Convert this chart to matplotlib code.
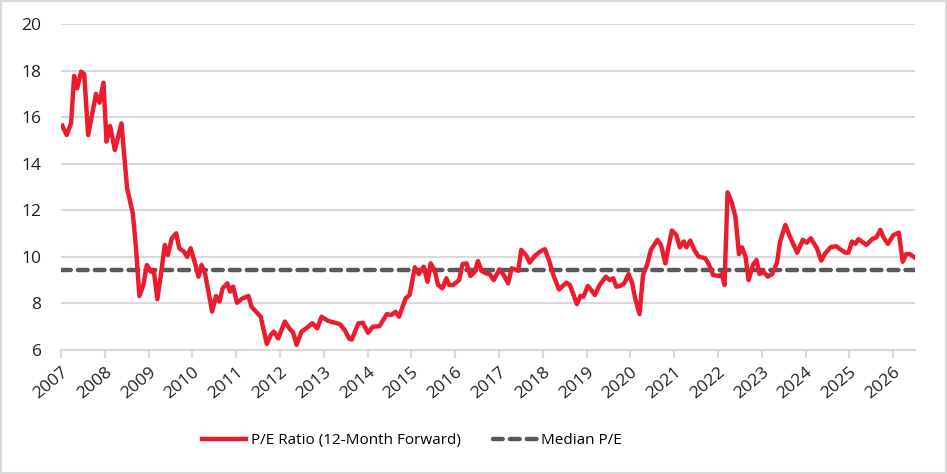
import matplotlib.pyplot as plt
from matplotlib.patches import Rectangle

plt.rcParams['font.family'] = ['Open Sans', 'DejaVu Sans']

# decimal years and forward P/E
dates = [
    2007.03, 2007.13, 2007.23, 2007.30, 2007.37, 2007.46, 2007.53, 2007.62, 2007.80, 2007.88,
    2007.97, 2008.04, 2008.12, 2008.23, 2008.38, 2008.51, 2008.64, 2008.71, 2008.79, 2008.88,
    2008.96, 2009.06, 2009.12, 2009.20, 2009.28, 2009.37, 2009.44, 2009.53, 2009.63, 2009.70,
    2009.81, 2009.88, 2009.96, 2010.06, 2010.14, 2010.21, 2010.29, 2010.36, 2010.45, 2010.54,
    2010.62, 2010.69, 2010.80, 2010.86, 2010.93, 2011.02, 2011.15, 2011.28, 2011.35, 2011.45,
    2011.56, 2011.70, 2011.79, 2011.86, 2011.96, 2012.11, 2012.23, 2012.30, 2012.38, 2012.49,
    2012.60, 2012.74, 2012.85, 2012.95, 2013.10, 2013.37, 2013.48, 2013.58, 2013.64, 2013.79,
    2013.89, 2014.01, 2014.12, 2014.27, 2014.44, 2014.54, 2014.64, 2014.72, 2014.87, 2014.96,
    2015.08, 2015.17, 2015.28, 2015.37, 2015.44, 2015.53, 2015.61, 2015.71, 2015.80, 2015.86,
    2015.95, 2016.09, 2016.17, 2016.26, 2016.35, 2016.45, 2016.52, 2016.60, 2016.71, 2016.79,
    2016.88, 2017.01, 2017.11, 2017.21, 2017.29, 2017.44, 2017.51, 2017.63, 2017.70, 2017.82,
    2017.93, 2018.05, 2018.14, 2018.25, 2018.37, 2018.54, 2018.62, 2018.69, 2018.78, 2018.86,
    2018.93, 2019.03, 2019.11, 2019.19, 2019.30, 2019.44, 2019.53, 2019.61, 2019.68, 2019.77,
    2019.86, 2019.96, 2020.04, 2020.11, 2020.21, 2020.29, 2020.38, 2020.47, 2020.62, 2020.70,
    2020.80, 2020.88, 2020.95, 2021.05, 2021.13, 2021.22, 2021.28, 2021.37, 2021.46, 2021.56,
    2021.71, 2021.79, 2021.89, 2022.02, 2022.09, 2022.15, 2022.22, 2022.32, 2022.40, 2022.48,
    2022.55, 2022.63, 2022.70, 2022.80, 2022.88, 2022.95, 2023.04, 2023.14, 2023.24, 2023.35,
    2023.42, 2023.54, 2023.65, 2023.81, 2023.94, 2024.03, 2024.12, 2024.26, 2024.36, 2024.45,
    2024.57, 2024.70, 2024.79, 2024.91, 2024.98, 2025.06, 2025.14, 2025.21, 2025.39, 2025.52,
    2025.62, 2025.71, 2025.78, 2025.88, 2026.01, 2026.13, 2026.22, 2026.30, 2026.38, 2026.49,
]
pe = [
    15.63, 15.23, 15.73, 17.77, 17.24, 17.95, 17.85, 15.23, 17.00, 16.62,
    17.48, 14.95, 15.62, 14.59, 15.73, 12.94, 11.87, 10.44, 8.32, 8.79,
    9.65, 9.36, 9.40, 8.18, 9.22, 10.51, 10.08, 10.80, 11.01, 10.37,
    10.22, 10.00, 10.37, 9.72, 9.15, 9.65, 9.29, 8.58, 7.65, 8.32,
    8.08, 8.65, 8.86, 8.51, 8.72, 8.03, 8.22, 8.32, 7.86, 7.65,
    7.43, 6.26, 6.64, 6.79, 6.50, 7.22, 6.89, 6.75, 6.22, 6.79,
    6.93, 7.15, 6.93, 7.43, 7.25, 7.11, 6.85, 6.49, 6.45, 7.14,
    7.17, 6.74, 7.00, 7.02, 7.54, 7.50, 7.64, 7.43, 8.22, 8.36,
    9.55, 9.26, 9.58, 8.93, 9.72, 9.44, 8.79, 8.65, 9.08, 8.79,
    8.79, 9.00, 9.69, 9.72, 9.18, 9.36, 9.82, 9.40, 9.29, 9.26,
    9.00, 9.46, 9.22, 8.86, 9.51, 9.40, 10.30, 10.04, 9.75, 10.04,
    10.22, 10.33, 9.87, 9.18, 8.60, 8.89, 8.79, 8.43, 7.97, 8.32,
    8.29, 8.75, 8.57, 8.36, 8.79, 9.15, 9.00, 9.08, 8.72, 8.75,
    8.86, 9.26, 8.89, 8.22, 7.54, 9.22, 9.65, 10.30, 10.73, 10.51,
    9.72, 10.51, 11.13, 10.94, 10.41, 10.66, 10.41, 10.70, 10.30, 10.01,
    9.94, 9.69, 9.22, 9.18, 9.26, 8.79, 12.77, 12.31, 11.73, 10.12,
    10.41, 10.01, 9.00, 9.65, 9.87, 9.26, 9.36, 9.15, 9.26, 9.75,
    10.66, 11.37, 10.84, 10.18, 10.73, 10.61, 10.80, 10.37, 9.84, 10.15,
    10.41, 10.46, 10.33, 10.18, 10.18, 10.66, 10.56, 10.76, 10.51, 10.76,
    10.84, 11.16, 10.84, 10.56, 10.94, 11.04, 9.79, 10.12, 10.12, 9.98,
]
median_pe = 9.43
years = list(range(2007, 2027))

fig = plt.figure(figsize=(9.47, 4.74), dpi=100)
ax = fig.add_axes([61 / 947, 1 - 350 / 474, (915 - 61) / 947, (350 - 24) / 474])

ax.plot(dates, pe, color='#ec1c2e', lw=3.2, solid_joinstyle='round',
        label='P/E Ratio (12-Month Forward)', zorder=3)
ax.plot([2007, 2026.5], [median_pe, median_pe], color='#58595b', lw=3.2,
        ls=(0, (2.2, 1.6)), dash_capstyle='round', label='Median P/E', zorder=2)

ax.set_xlim(2007, 2026.5)
ax.set_ylim(6, 20)
ax.set_yticks(range(6, 21, 2))
ax.set_xticks(years)
ax.set_xticklabels([str(y) for y in years], rotation=40, ha='right',
                   rotation_mode='anchor')
ax.grid(axis='y', color='#d9d9d9', lw=1.5)
ax.set_axisbelow(True)
for s in ['top', 'right', 'left']:
    ax.spines[s].set_visible(False)
ax.spines['bottom'].set_color('#d9d9d9')
ax.spines['bottom'].set_linewidth(1.5)
ax.tick_params(axis='x', length=6, width=1.5, color='#d9d9d9', labelsize=12.5,
               labelcolor='#222222', pad=4)
ax.tick_params(axis='y', length=0, labelsize=12.5, labelcolor='#222222', pad=14)

fig.legend(loc='lower center', bbox_to_anchor=(0.435, 0.025), ncol=2, frameon=False,
           fontsize=11, handlelength=2.9, columnspacing=2.1, handletextpad=0.3)

fig.patches.append(Rectangle((0, 0), 1, 1, transform=fig.transFigure, fill=False,
                             edgecolor='#d9d9d9', lw=3))

fig.savefig('out.png', dpi=100)
